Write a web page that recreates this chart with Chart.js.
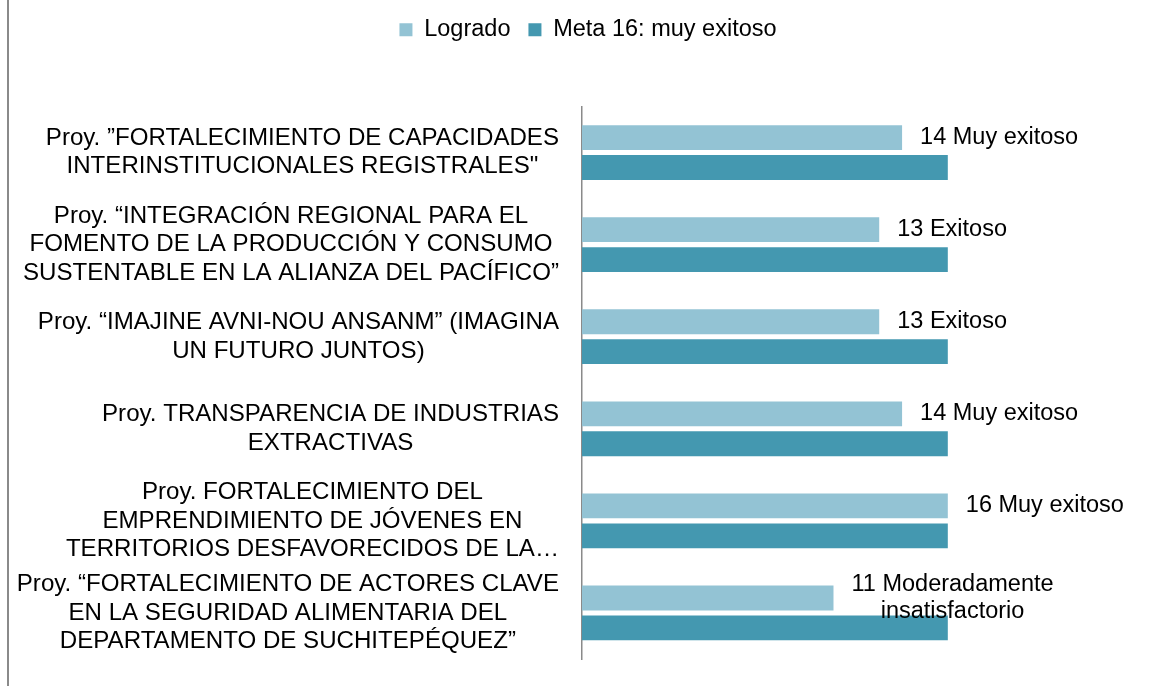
<!DOCTYPE html>
<html>
<head>
<meta charset="utf-8">
<script src="https://cdn.jsdelivr.net/npm/chart.js@4/dist/chart.umd.min.js"></script>
<style>
  html, body { margin: 0; padding: 0; background: #fff; }
  #wrap { position: relative; width: 1149px; height: 686px; }
  #frame { position: absolute; left: 7px; top: 0; width: 2px; height: 686px; background: #8a8a8a; }
</style>
</head>
<body>
<div id="wrap">
  <canvas id="c" width="1149" height="686"></canvas>
  <div id="frame"></div>
</div>
<script>
// ---- data ----
const categories = [
  ['Proy. ”FORTALECIMIENTO DE CAPACIDADES', 'INTERINSTITUCIONALES REGISTRALES"'],
  ['Proy. “INTEGRACIÓN REGIONAL PARA EL', 'FOMENTO DE LA PRODUCCIÓN Y CONSUMO', 'SUSTENTABLE EN LA ALIANZA DEL PACÍFICO”'],
  ['Proy. “IMAJINE AVNI-NOU ANSANM” (IMAGINA', 'UN FUTURO JUNTOS)'],
  ['Proy. TRANSPARENCIA DE INDUSTRIAS', 'EXTRACTIVAS'],
  ['Proy. FORTALECIMIENTO DEL', 'EMPRENDIMIENTO DE JÓVENES EN', 'TERRITORIOS DESFAVORECIDOS DE LA…'],
  ['Proy. “FORTALECIMIENTO DE ACTORES CLAVE', 'EN LA SEGURIDAD ALIMENTARIA DEL', 'DEPARTAMENTO DE SUCHITEPÉQUEZ”']
];
const logrado = [14, 13, 13, 14, 16, 11];
const meta = [16, 16, 16, 16, 16, 16];
const ratings = [['Muy exitoso'], ['Exitoso'], ['Exitoso'], ['Muy exitoso'], ['Muy exitoso'], ['Moderadamente', 'insatisfactorio']];
const seriesNames = ['Logrado', 'Meta 16: muy exitoso'];

// ---- styles ----
const FONT = '"Liberation Sans", Arial, sans-serif';
const FS = 23.5;
const FS_CAT = 24.1;
const LIGHT = '#93C3D4';
const DARK = '#4498B0';

const legendSpacer = {
  id: 'legendSpacer',
  beforeInit(chart) {
    const orig = chart.legend.fit;
    chart.legend.fit = function () {
      orig.bind(this)();
      this.height += 55;
    };
  }
};

const catLabels = {
  id: 'catLabels',
  afterDraw(chart) {
    const ctx = chart.ctx;
    const ys = chart.scales.y;
    ctx.save();
    ctx.font = FS_CAT + 'px ' + FONT;
    ctx.fillStyle = '#000';
    ctx.textBaseline = 'middle';
    ctx.textAlign = 'center';
    const lh = 28.5;
    const right = 559;
    categories.forEach((lines, i) => {
      const cy = ys.getPixelForValue(i);
      const maxW = Math.max(...lines.map(l => ctx.measureText(l).width));
      const cx = right - maxW / 2;
      const y0 = cy - (lines.length - 1) * lh / 2;
      lines.forEach((l, k) => ctx.fillText(l, cx, y0 + k * lh));
    });
    ctx.restore();
  }
};

const valueLabels = {
  id: 'valueLabels',
  afterDatasetsDraw(chart) {
    const ctx = chart.ctx;
    const metaDs = chart.getDatasetMeta(0);
    ctx.save();
    ctx.font = FS + 'px ' + FONT;
    ctx.fillStyle = '#000';
    ctx.textBaseline = 'middle';
    ctx.textAlign = 'center';
    const lh = 27;
    metaDs.data.forEach((bar, i) => {
      const lines = [logrado[i] + ' ' + ratings[i][0]];
      for (let k = 1; k < ratings[i].length; k++) lines.push(ratings[i][k]);
      const maxW = Math.max(...lines.map(l => ctx.measureText(l).width));
      const cx = bar.x + 18 + maxW / 2;
      const y0 = bar.y - (lines.length - 1) * lh / 2;
      lines.forEach((l, k) => ctx.fillText(l, cx, y0 + k * lh));
    });
    ctx.restore();
  }
};

new Chart(document.getElementById('c'), {
  type: 'bar',
  data: {
    labels: categories.map(c => c.join(' ')),
    datasets: [
      { label: seriesNames[0], data: logrado, backgroundColor: LIGHT, borderWidth: 0 },
      { label: seriesNames[1], data: meta, backgroundColor: DARK, borderWidth: 0 }
    ]
  },
  options: {
    indexAxis: 'y',
    responsive: false,
    animation: false,
    layout: { padding: { top: 0, right: 0, bottom: 27, left: 27 } },
    datasets: { bar: { barPercentage: 0.83, categoryPercentage: 0.65 } },
    scales: {
      x: { display: false, min: 0, max: 24.8 },
      y: {
        display: true,
        grid: { display: false, drawTicks: false },
        border: { display: true, color: '#8a8a8a', width: 1.5 },
        ticks: { display: false },
        afterFit(scale) { scale.width = 555; }
      }
    },
    plugins: {
      legend: {
        position: 'top',
        labels: {
          boxWidth: 13, boxHeight: 13, padding: 18,
          color: '#000',
          font: { family: FONT, size: FS }
        }
      },
      tooltip: { enabled: false }
    }
  },
  plugins: [legendSpacer, catLabels, valueLabels]
});
</script>
</body>
</html>
